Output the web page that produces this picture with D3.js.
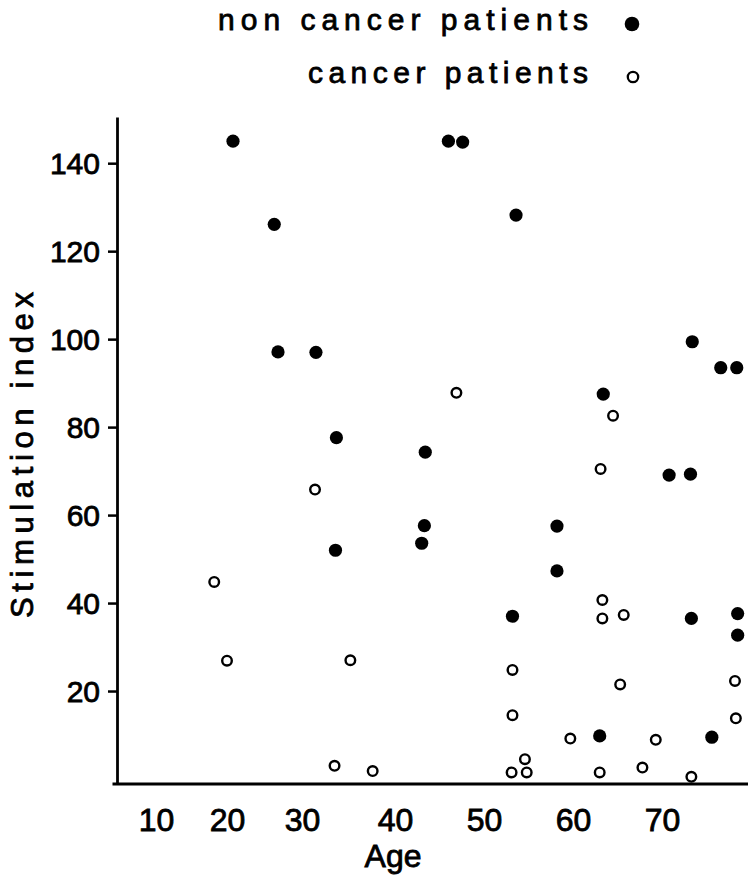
<!DOCTYPE html>
<html>
<head>
<meta charset="utf-8">
<script src="https://cdn.jsdelivr.net/npm/d3@7"></script>
<style>
  html, body { margin: 0; padding: 0; background: #fff; }
  svg { display: block; }
  text { font-family: "Liberation Sans", Arial, sans-serif; fill: #000; stroke: #000; stroke-width: 0.8px; }
</style>
</head>
<body>
<svg id="chart" width="748" height="882"></svg>
<script>
// ---- data ----
const ageNonCancer = [20.8, 26.3, 26.8, 31.5, 33.7, 33.6, 43.4, 43.3, 43.0, 46.0, 47.6, 53.6, 53.2,
                      58.2, 58.2, 63.4, 63.0, 70.8, 73.2, 73.4, 73.3, 75.6, 76.6, 78.4, 78.5, 78.5];
const siNonCancer  = [145, 126.1, 97.1, 97.0, 77.6, 52.0, 74.3, 57.6, 53.6, 145, 144.8, 128.2, 37.0,
                      57.5, 47.3, 87.5, 9.8, 69.1, 69.3, 99.4, 36.5, 9.5, 93.5, 93.5, 37.6, 32.7];

const ageCancer = [18.2, 20.0, 31.4, 35.2, 33.5, 37.6, 46.9, 53.2, 53.2, 53.1, 54.6, 54.8, 59.7,
                   63.0, 63.1, 63.3, 63.3, 64.5, 65.7, 65.3, 67.8, 69.3, 73.3, 78.2, 78.3];
const siCancer  = [44.8, 26.9, 65.8, 27.0, 3.0, 1.8, 87.8, 24.8, 14.5, 1.5, 4.5, 1.5, 9.2,
                   1.5, 70.5, 40.7, 36.5, 82.6, 37.3, 21.5, 2.6, 8.9, 0.5, 22.3, 13.8];

const xTickValues = [10, 20, 30, 40, 50, 60, 70];
const yTickValues = [20, 40, 60, 80, 100, 120, 140];
const legendLabels = ["non cancer patients", "cancer patients"];
const xTitle = "Age";
const yTitle = "Stimulation index";

// ---- scales ----
const svg = d3.select("#chart");
// hand-lettered age labels are unevenly spaced in the original: piecewise scale
const x = d3.scaleLinear()
  .domain([5, 10, 20, 30, 40, 70, 80])
  .range([112, 156, 227, 302, 395, 662, 751]);
const y = d3.scaleLinear()
  .domain([-1, 150.5])
  .range([783.4, 117]);

const axisColor = "#000";

// ---- y axis ----
const yAxis = d3.axisLeft(y)
  .tickValues(yTickValues)
  .tickSize(9)
  .tickSizeOuter(0)
  .tickPadding(8);
const gy = svg.append("g")
  .attr("transform", "translate(117,0)")
  .call(yAxis);
gy.select(".domain").attr("stroke", axisColor).attr("stroke-width", 2.8);
gy.selectAll(".tick line").attr("stroke", axisColor).attr("stroke-width", 2.5);
gy.selectAll(".tick text")
  .attr("font-family", "Liberation Sans, Arial, sans-serif")
  .attr("font-size", 30)
  .attr("fill", "#000")
  .attr("dy", "0.36em");

// ---- x axis ----
const xAxis = d3.axisBottom(x)
  .tickValues(xTickValues)
  .tickSize(0)
  .tickSizeOuter(0)
  .tickPadding(25);
const gx = svg.append("g")
  .attr("transform", `translate(0,${y(-1)})`)
  .call(xAxis);
gx.select(".domain").attr("stroke", axisColor).attr("stroke-width", 3);
gx.selectAll(".tick text")
  .attr("font-family", "Liberation Sans, Arial, sans-serif")
  .attr("font-size", 32)
  .attr("fill", "#000");

// ---- axis titles ----
svg.append("text")
  .attr("x", 393).attr("y", 867)
  .attr("text-anchor", "middle")
  .attr("font-size", 32)
  .text(xTitle);

svg.append("text")
  .attr("transform", "translate(33,455) rotate(-90)")
  .attr("text-anchor", "middle")
  .attr("font-size", 31)
  .attr("textLength", 326)
  .attr("lengthAdjust", "spacing")
  .text(yTitle);

// ---- points ----
const nonCancer = ageNonCancer.map((a, i) => ({ age: a, si: siNonCancer[i] }));
const cancer = ageCancer.map((a, i) => ({ age: a, si: siCancer[i] }));

svg.append("g").selectAll("circle")
  .data(nonCancer).join("circle")
  .attr("cx", d => x(d.age))
  .attr("cy", d => y(d.si))
  .attr("r", 6.6)
  .attr("fill", "#000");

svg.append("g").selectAll("circle")
  .data(cancer).join("circle")
  .attr("cx", d => x(d.age))
  .attr("cy", d => y(d.si))
  .attr("r", 4.8)
  .attr("fill", "#fff")
  .attr("stroke", "#000")
  .attr("stroke-width", 2.4);

// ---- legend ----
const legend = svg.append("g");
const legendLengths = [370, 280];
legendLabels.forEach((lab, i) => {
  const by = 30 + i * 53;
  legend.append("text")
    .attr("x", 588).attr("y", by)
    .attr("text-anchor", "end")
    .attr("font-size", 30)
    .attr("textLength", legendLengths[i])
    .attr("lengthAdjust", "spacing")
    .text(lab);
  if (i === 0) {
    legend.append("circle")
      .attr("cx", 632).attr("cy", by - 6).attr("r", 7.3).attr("fill", "#000");
  } else {
    legend.append("circle")
      .attr("cx", 633).attr("cy", by - 6).attr("r", 5.2)
      .attr("fill", "#fff").attr("stroke", "#000").attr("stroke-width", 2.3);
  }
});
</script>
</body>
</html>
